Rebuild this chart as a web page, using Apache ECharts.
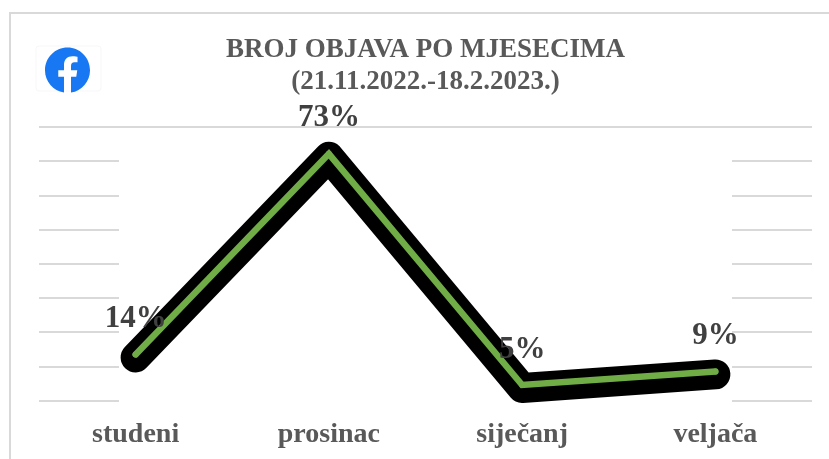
<!DOCTYPE html>
<html><head><meta charset="utf-8">
<style>html,body{margin:0;padding:0;background:#fff}#c{width:829px;height:459px}</style>
<script src="https://cdn.jsdelivr.net/npm/echarts@6/dist/echarts.min.js"></script>
</head><body><div id="c"></div>
<script>
const titleLines = ['BROJ OBJAVA PO MJESECIMA', '(21.11.2022.-18.2.2023.)'];
const categories = ['studeni', 'prosinac', 'siječanj', 'veljača'];
const values = [14, 73, 5, 9];
const axisMin = 0, axisMax = 80, axisStep = 10;
const serif = '"Liberation Serif","Times New Roman",serif';
const fbPath = 'M24 12.073c0-6.627-5.373-12-12-12s-12 5.373-12 12c0 5.99 4.388 10.954 10.125 11.854v-8.385H7.078v-3.47h3.047V9.43c0-3.007 1.792-4.669 4.533-4.669 1.312 0 2.686.235 2.686.235v2.953H15.83c-1.491 0-1.956.925-1.956 1.874v2.25h3.328l-.532 3.47h-2.796v8.385C19.612 23.027 24 18.062 24 12.073z';
const chart = echarts.init(document.getElementById('c'), null, {renderer:'canvas'});
const yBase = {type:'value', min:axisMin, max:axisMax, interval:axisStep};
const xBase = {type:'category', data:categories, boundaryGap:true};
chart.setOption({
  animation:false,
  backgroundColor:'#fff',
  title:{
    text:titleLines.join('\n'), left:420.5, top:29.5, textAlign:'center',
    textStyle:{fontFamily:serif, fontWeight:'bold', fontSize:27, lineHeight:32, color:'#595959'}
  },
  grid:[
    {left:39, right:17, top:127, bottom:58.5},
    {left:39, right:17, top:130, bottom:57},
    {left:39, right:17, top:133, bottom:54}
  ],
  xAxis:[
    Object.assign({}, xBase, {gridIndex:0, axisLine:{show:false}, axisTick:{show:false},
      axisLabel:{fontFamily:serif, fontWeight:'bold', fontSize:28, color:'#595959', margin:20}}),
    Object.assign({}, xBase, {gridIndex:1, show:false}),
    Object.assign({}, xBase, {gridIndex:2, show:false})
  ],
  yAxis:[
    Object.assign({}, yBase, {gridIndex:0, axisLabel:{show:false}, axisLine:{show:false}, axisTick:{show:false},
      splitLine:{show:true, lineStyle:{color:'#d9d9d9', width:2}}}),
    Object.assign({}, yBase, {gridIndex:1, show:false, splitLine:{show:false}}),
    Object.assign({}, yBase, {gridIndex:2, show:false, splitLine:{show:false}})
  ],
  graphic:[
    {type:'rect', z:1, silent:true, shape:{x:119, y:129, width:613, height:275}, style:{fill:'#fff'}},
    {type:'rect', z:1, silent:true, shape:{x:10, y:13, width:840, height:470}, style:{fill:'none', stroke:'#d9d9d9', lineWidth:2}},
    {type:'rect', z:1, silent:true, shape:{x:36, y:46, width:65, height:45, r:3}, style:{fill:'#fff', stroke:'#f7f7f7', lineWidth:1}}
  ],
  series:[
    {type:'line', xAxisIndex:2, yAxisIndex:2, data:values, symbol:'none', silent:true, z:2,
      lineStyle:{color:'#000', width:30, cap:'round', join:'round'}},
    {type:'line', xAxisIndex:1, yAxisIndex:1, data:values, symbol:'circle', symbolSize:6, showSymbol:true, silent:true, z:3,
      itemStyle:{color:'#70ad47'},
      lineStyle:{color:'#70ad47', width:6.5, cap:'round', join:'miter'},
      label:{show:true, position:'top', distance:17, formatter:p=>p.value+'%',
        fontFamily:serif, fontWeight:'bold', fontSize:31, color:'#404040'}},
    {type:'custom', coordinateSystem:'none', data:[[0]], silent:true, z:4,
      renderItem:()=>({type:'path', shape:{pathData:fbPath, x:45, y:47.5, width:45, height:45, layout:'cover'}, style:{fill:'#1877f2'}})}
  ]
});
</script></body></html>
